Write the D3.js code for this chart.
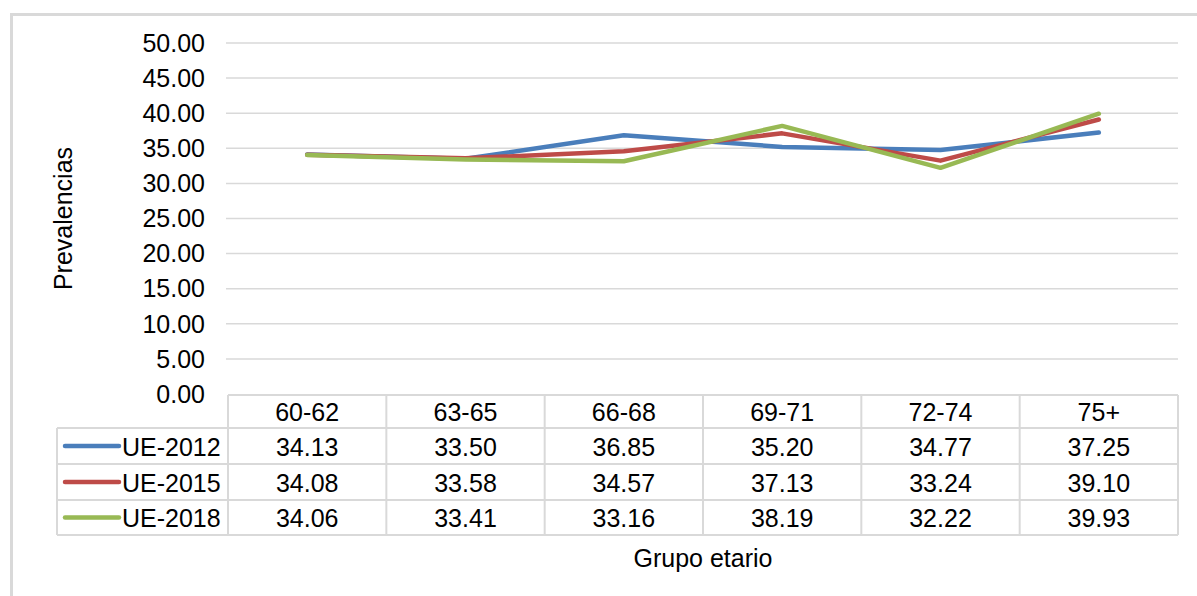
<!DOCTYPE html>
<html>
<head>
<meta charset="utf-8">
<script src="https://cdn.jsdelivr.net/npm/d3@7"></script>
<style>
  body { margin: 0; background: #fff; }
  svg text { font-family: "Liberation Sans", Arial, sans-serif; fill: #000; }
</style>
</head>
<body>
<div id="chart"></div>
<script>
const categories = ["60-62", "63-65", "66-68", "69-71", "72-74", "75+"];
const seriesNames = ["UE-2012", "UE-2015", "UE-2018"];
const ue2012 = [34.13, 33.50, 36.85, 35.20, 34.77, 37.25];
const ue2015 = [34.08, 33.58, 34.57, 37.13, 33.24, 39.10];
const ue2018 = [34.06, 33.41, 33.16, 38.19, 32.22, 39.93];
const yTicks = [0, 5, 10, 15, 20, 25, 30, 35, 40, 45, 50];
const colors = ["#4a7ebb", "#be4b48", "#98b954"];

const width = 1197, height = 596;
const fontSize = 25;
const plotLeft = 228, plotRight = 1178, plotTop = 43, plotBottom = 394;
const tableLeft = 57;
const rowEdges = [395, 428, 464, 500, 535];

const svg = d3.select("#chart")
    .append("svg")
    .attr("width", width)
    .attr("height", height);

// outer chart frame
svg.append("rect")
    .attr("x", 11.5).attr("y", 14.5)
    .attr("width", width).attr("height", height)
    .attr("fill", "none")
    .attr("stroke", "#d9d9d9")
    .attr("stroke-width", 3);

const x = d3.scaleBand().domain(categories).range([plotLeft, plotRight]);
const y = d3.scaleLinear().domain([0, 50]).range([plotBottom, plotTop]);

// gridlines
svg.append("g")
    .selectAll("line")
    .data(yTicks.slice(1))
    .enter()
    .append("line")
    .attr("x1", plotLeft - 2).attr("x2", plotRight)
    .attr("y1", d => y(d)).attr("y2", d => y(d))
    .attr("stroke", "#d9d9d9")
    .attr("stroke-width", 1.5);

// y tick labels
svg.append("g")
    .selectAll("text")
    .data(yTicks)
    .enter()
    .append("text")
    .attr("x", 205)
    .attr("y", d => y(d))
    .attr("dy", "0.35em")
    .attr("text-anchor", "end")
    .style("font-size", fontSize + "px")
    .text(d => d.toFixed(2));

// y title
svg.append("text")
    .attr("transform", `translate(72, ${(plotTop + plotBottom) / 2}) rotate(-90)`)
    .attr("text-anchor", "middle")
    .style("font-size", fontSize + "px")
    .text("Prevalencias");

// lines
const allSeries = [ue2012, ue2015, ue2018];
const line = d3.line()
    .x((d, i) => x(categories[i]) + x.bandwidth() / 2)
    .y(d => y(d));

svg.append("g")
    .selectAll("path")
    .data(allSeries)
    .enter()
    .append("path")
    .attr("d", line)
    .attr("fill", "none")
    .attr("stroke", (d, i) => colors[i])
    .attr("stroke-width", 4.5)
    .attr("stroke-linejoin", "round")
    .attr("stroke-linecap", "round");

// data table
const grid = svg.append("g")
    .attr("stroke", "#d9d9d9")
    .attr("stroke-width", 2);

grid.append("line")
    .attr("x1", plotLeft).attr("x2", plotRight)
    .attr("y1", rowEdges[0]).attr("y2", rowEdges[0]);
rowEdges.slice(1).forEach(r => {
    grid.append("line")
        .attr("x1", tableLeft).attr("x2", plotRight)
        .attr("y1", r).attr("y2", r);
});
grid.append("line")
    .attr("x1", tableLeft).attr("x2", tableLeft)
    .attr("y1", rowEdges[1]).attr("y2", rowEdges[4]);
categories.forEach(c => {
    grid.append("line")
        .attr("x1", x(c)).attr("x2", x(c))
        .attr("y1", rowEdges[0]).attr("y2", rowEdges[4]);
});
grid.append("line")
    .attr("x1", plotRight).attr("x2", plotRight)
    .attr("y1", rowEdges[0]).attr("y2", rowEdges[4]);

const rowMid = i => (rowEdges[i] + rowEdges[i + 1]) / 2 + 1;

// header labels
svg.append("g")
    .selectAll("text")
    .data(categories)
    .enter()
    .append("text")
    .attr("x", d => x(d) + x.bandwidth() / 2)
    .attr("y", rowMid(0))
    .attr("dy", "0.35em")
    .attr("text-anchor", "middle")
    .style("font-size", fontSize + "px")
    .text(d => d);

allSeries.forEach((vals, s) => {
    const g = svg.append("g");
    g.append("line")
        .attr("x1", 65).attr("x2", 119)
        .attr("y1", rowMid(s + 1) - 1).attr("y2", rowMid(s + 1) - 1)
        .attr("stroke", colors[s])
        .attr("stroke-width", 4.5)
        .attr("stroke-linecap", "round");
    g.append("text")
        .attr("x", 122)
        .attr("y", rowMid(s + 1))
        .attr("dy", "0.35em")
        .style("font-size", fontSize + "px")
        .text(seriesNames[s]);
    g.selectAll("text.v")
        .data(vals)
        .enter()
        .append("text")
        .attr("class", "v")
        .attr("x", (d, i) => x(categories[i]) + x.bandwidth() / 2)
        .attr("y", rowMid(s + 1))
        .attr("dy", "0.35em")
        .attr("text-anchor", "middle")
        .style("font-size", fontSize + "px")
        .text(d => d.toFixed(2));
});

// x title
svg.append("text")
    .attr("x", (plotLeft + plotRight) / 2)
    .attr("y", 558)
    .attr("dy", "0.35em")
    .attr("text-anchor", "middle")
    .style("font-size", fontSize + "px")
    .text("Grupo etario");
</script>
</body>
</html>
